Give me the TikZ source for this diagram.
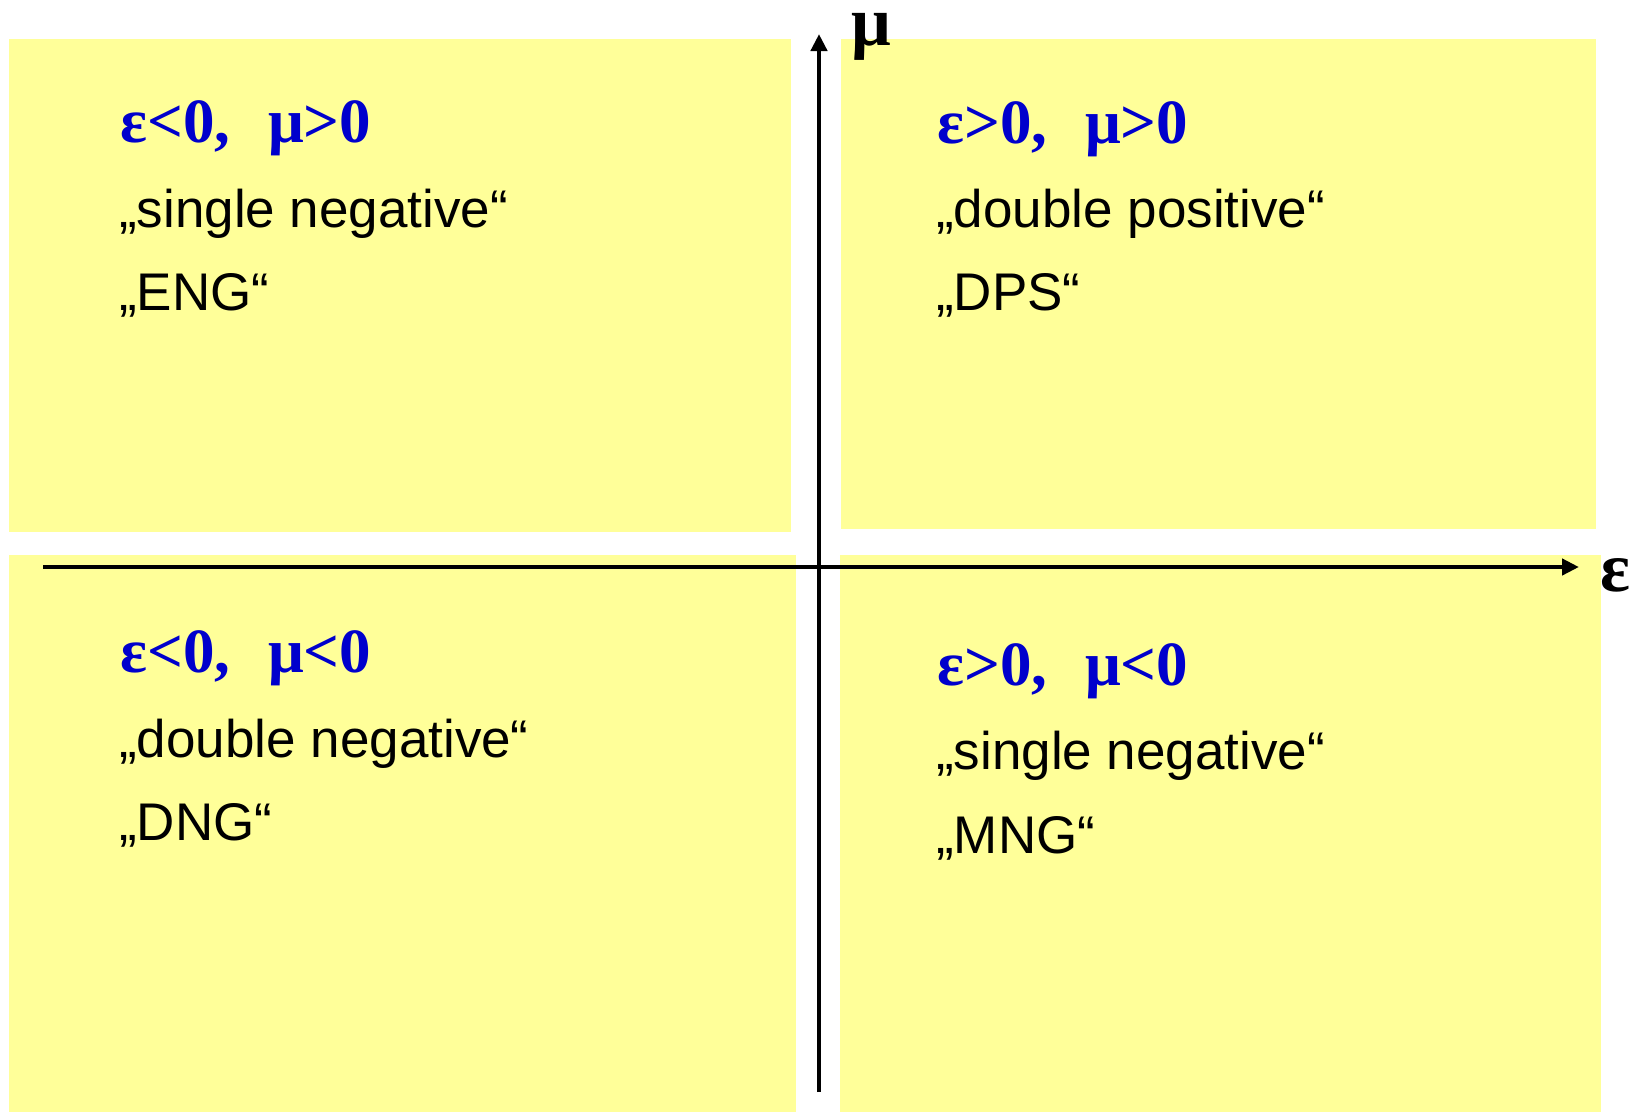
\documentclass[tikz,border=0pt]{standalone}
\usepackage{fontspec}
\setmainfont{Liberation Sans}
\newfontfamily\serifgr{Liberation Serif}
\usetikzlibrary{arrows.meta}
\definecolor{quadyellow}{RGB}{255,255,153}
\definecolor{condblue}{RGB}{0,0,204}
\newcommand{\gapsp}{\hspace{0.6em}}
\tikzset{
  quad/.style={fill=quadyellow, draw=none},
  axis/.style={line width=4.8pt, -{Triangle[length=17pt,width=16pt]}},
  cond/.style={anchor=base west, inner sep=0pt, text=condblue, font=\serifgr\bfseries\fontsize{63}{63}\selectfont},
  desc/.style={anchor=base west, inner sep=0pt, text=black, font=\fontsize{53}{53}\selectfont},
  axlabel/.style={anchor=base west, inner sep=0pt, font=\serifgr\bfseries\fontsize{70}{70}\selectfont}
}
\begin{document}
\begin{tikzpicture}[x=1pt,y=-1pt]
\useasboundingbox (0,0) rectangle (1641,1112);
% quadrants
\fill[quad] (9,39) rectangle (791,532);
\fill[quad] (841,39) rectangle (1596,529);
\fill[quad] (9,555) rectangle (796,1112);
\fill[quad] (840,555) rectangle (1601,1112);
% axes
\coordinate (xstart) at (43,567);
\coordinate (xend) at (1579,567);
\coordinate (ystart) at (819,1092);
\coordinate (yend) at (819,34);
\draw[axis] (xstart) -- (xend);
\draw[axis] (ystart) -- (yend);
\node[axlabel, text height=34pt] (mulabel) at (851,45) {μ};
\node[axlabel] (epslabel) at (1600,591) {ε};
% top left
\node[cond] (tlc) at (120,142) {ε<0,\gapsp μ>0};
\node[desc] (tld) at (119,227) {„single negative“};
\node[desc] (tla) at (119,310) {„ENG“};
% top right
\node[cond] (trc) at (937,143) {ε>0,\gapsp μ>0};
\node[desc] (trd) at (936,227) {„double positive“};
\node[desc] (tra) at (936,310) {„DPS“};
% bottom left
\node[cond] (blc) at (120,672) {ε<0,\gapsp μ<0};
\node[desc] (bld) at (119,757) {„double negative“};
\node[desc] (bla) at (119,840) {„DNG“};
% bottom right
\node[cond] (brc) at (937,685) {ε>0,\gapsp μ<0};
\node[desc] (brd) at (936,769) {„single negative“};
\node[desc] (bra) at (936,853) {„MNG“};
\end{tikzpicture}
\end{document}
